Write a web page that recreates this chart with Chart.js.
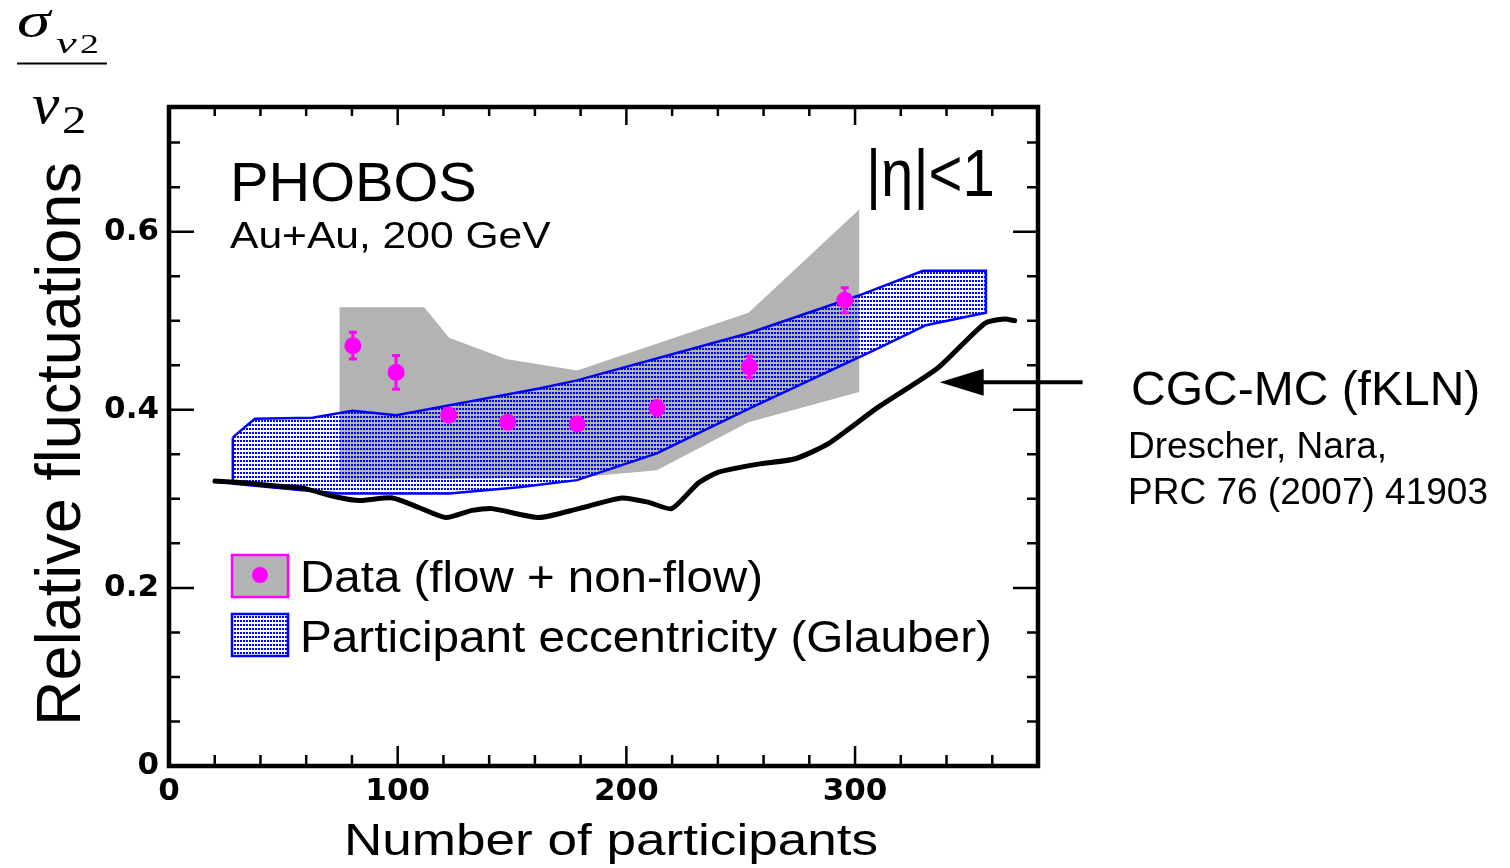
<!DOCTYPE html>
<html>
<head>
<meta charset="utf-8">
<script src="https://cdn.jsdelivr.net/npm/chart.js@4.4.1/dist/chart.umd.min.js"></script>
<style>
  html, body { margin: 0; padding: 0; background: #fff; }
  canvas { display: block; }
</style>
</head>
<body>
<canvas id="c" width="1510" height="868"></canvas>
<script>
// PHOBOS Au+Au 200 GeV: relative elliptic-flow fluctuations vs. number of participants

// measured points (flow + non-flow) with statistical errors
const nPart    = [80.4, 99.3, 122.3, 148.1, 178.5, 213.4, 253.8, 295.5];
const relFluct = [0.472, 0.442, 0.394, 0.386, 0.384, 0.402, 0.448, 0.523];
const statErr  = [0.015, 0.019, 0.006, 0.006, 0.006, 0.008, 0.012, 0.014];

// systematic band of the data: upper edge left to right, then lower edge back
const sysBandX = [74.6, 111.6, 122.5, 147.3, 178.5, 253.4, 301.8, 301.8, 253.4, 213.3, 178.4, 74.6, 74.6];
const sysBandY = [0.515, 0.515, 0.481, 0.457, 0.444, 0.509, 0.625, 0.420, 0.386, 0.332, 0.324, 0.321, 0.515];

// Glauber participant eccentricity band (closed outline)
const glauberX = [27.9, 37.5, 62.8, 80.2, 99.4, 161.8, 178.4, 253.4, 301.3, 329.7, 357.2,
                  357.2, 331.0, 310.0, 253.4, 213.3, 178.4, 153.0, 122.5, 74.6, 57.0, 27.9, 27.9];
const glauberY = [0.369, 0.390, 0.391, 0.399, 0.394, 0.424, 0.433, 0.486, 0.528, 0.556, 0.556,
                  0.509, 0.495, 0.469, 0.401, 0.351, 0.321, 0.313, 0.306, 0.306, 0.310, 0.317, 0.369];

// CGC-MC (fKLN) curve
const cgcX = [20.1, 33.1, 44.0, 58.4, 73.3, 83.3, 97.7, 109.5, 121.2, 132.6, 141.3, 161.8, 179.2,
              198.0, 209.8, 219.8, 231.6, 240.3, 257.7, 273.9, 288.3, 310.1, 336.2, 356.7, 365.5, 369.8];
const cgcY = [0.320, 0.318, 0.315, 0.312, 0.302, 0.298, 0.301, 0.290, 0.279, 0.287, 0.289, 0.279, 0.289,
              0.301, 0.296, 0.289, 0.318, 0.330, 0.339, 0.345, 0.362, 0.403, 0.447, 0.497, 0.502, 0.500];

// axes
const xTickValues = [0, 100, 200, 300];
const yTickValues = [0, 0.2, 0.4, 0.6];
const xRange = [0, 380];
const yRange = [0, 0.74];
const xMinorStep = 20;
const yMinorStep = 0.05;

// arrow pointing at the CGC curve (data coordinates)
const arrowTip  = [337, 0.431];
const arrowTail = [399.5, 0.431];

const toXY = (xs, ys) => xs.map((x, i) => ({ x: x, y: ys[i] }));

// blue dotted fill
function dotPattern() {
  const t = document.createElement('canvas');
  t.width = 3; t.height = 4;
  const g = t.getContext('2d');
  g.fillStyle = '#0000ff';
  g.fillRect(0, 0, 2, 2);
  return g.createPattern(t, 'repeat');
}
const dots = dotPattern();

// text drawn with a horizontal stretch factor
function wideText(ctx, text, x, y, font, sx, align) {
  ctx.save();
  ctx.font = font;
  ctx.textAlign = align || 'left';
  ctx.textBaseline = 'alphabetic';
  ctx.translate(x, y);
  ctx.scale(sx, 1);
  ctx.fillText(text, 0, 0);
  ctx.restore();
}

const errorBars = {
  id: 'errorBars',
  afterDatasetsDraw(chart) {
    const { ctx, scales: { x, y } } = chart;
    ctx.save();
    ctx.strokeStyle = '#ff00ff';
    ctx.lineWidth = 3;
    ctx.beginPath();
    nPart.forEach((n, i) => {
      const px = x.getPixelForValue(n);
      const yHi = y.getPixelForValue(relFluct[i] + statErr[i]);
      const yLo = y.getPixelForValue(relFluct[i] - statErr[i]);
      ctx.moveTo(px, yLo); ctx.lineTo(px, yHi);
      ctx.moveTo(px - 4, yLo); ctx.lineTo(px + 4, yLo);
      ctx.moveTo(px - 4, yHi); ctx.lineTo(px + 4, yHi);
    });
    ctx.stroke();
    ctx.restore();
  }
};

const frameAndNotes = {
  id: 'frameAndNotes',
  afterDraw(chart) {
    const { ctx, chartArea: a, scales: { x, y } } = chart;
    ctx.save();

    // inward ticks on all four sides
    ctx.strokeStyle = '#000';
    ctx.lineWidth = 2.5;
    ctx.beginPath();
    for (let v = xRange[0]; v <= xRange[1]; v += xMinorStep) {
      const px = x.getPixelForValue(v);
      const major = v % 100 === 0;
      ctx.moveTo(px, a.bottom); ctx.lineTo(px, a.bottom - (major ? 20 : 11));
      ctx.moveTo(px, a.top);    ctx.lineTo(px, a.top + (major ? 18 : 9));
    }
    for (let k = 0; k * yMinorStep <= yRange[1] + 1e-9; k++) {
      const py = y.getPixelForValue(k * yMinorStep);
      const major = k % 4 === 0;
      ctx.moveTo(a.left, py);  ctx.lineTo(a.left + (major ? 25 : 11), py);
      ctx.moveTo(a.right, py); ctx.lineTo(a.right - (major ? 25 : 11), py);
    }
    ctx.stroke();
    ctx.lineWidth = 4.5;
    ctx.strokeRect(a.left, a.top, a.right - a.left, a.bottom - a.top);

    ctx.fillStyle = '#000';

    // axis titles
    wideText(ctx, 'Number of participants', 611, 855, '45px "Liberation Sans"', 1.18, 'center');
    ctx.save();
    ctx.translate(80, 444);
    ctx.rotate(-Math.PI / 2);
    ctx.font = '63px "Liberation Sans"';
    ctx.textAlign = 'center';
    ctx.textBaseline = 'alphabetic';
    ctx.fillText('Relative fluctuations', 0, 0);
    ctx.restore();

    // labels inside the frame
    wideText(ctx, 'PHOBOS', 230, 201, '56px "Liberation Sans"', 1.03);
    wideText(ctx, 'Au+Au, 200 GeV', 230, 248, '37px "Liberation Sans"', 1.15);
    wideText(ctx, '|η|<1', 866, 196, '66px "Liberation Sans"', 0.88);

    // legend
    ctx.lineWidth = 2.5;
    ctx.fillStyle = '#b3b3b3';
    ctx.fillRect(232, 555, 56, 42);
    ctx.strokeStyle = '#ff00ff';
    ctx.strokeRect(232, 555, 56, 42);
    ctx.fillStyle = '#ff00ff';
    ctx.beginPath(); ctx.arc(260, 575, 8, 0, Math.PI * 2); ctx.fill();
    ctx.fillStyle = dots;
    ctx.fillRect(232, 614, 56, 42);
    ctx.strokeStyle = '#0000ff';
    ctx.strokeRect(232, 614, 56, 42);
    ctx.fillStyle = '#000';
    wideText(ctx, 'Data (flow + non-flow)', 300, 592, '45px "Liberation Sans"', 1.055);
    wideText(ctx, 'Participant eccentricity (Glauber)', 300, 652, '45px "Liberation Sans"', 1.06);

    // arrow and model reference
    const tx = x.getPixelForValue(arrowTip[0]), ty = y.getPixelForValue(arrowTip[1]);
    const sx = x.getPixelForValue(arrowTail[0]);
    ctx.strokeStyle = '#000';
    ctx.lineWidth = 4;
    ctx.beginPath(); ctx.moveTo(sx, ty); ctx.lineTo(tx + 40, ty); ctx.stroke();
    ctx.beginPath();
    ctx.moveTo(tx, ty); ctx.lineTo(tx + 44, ty - 13.5); ctx.lineTo(tx + 44, ty + 13.5);
    ctx.closePath(); ctx.fill();

    wideText(ctx, 'CGC-MC (fKLN)', 1131, 405, '48px "Liberation Sans"', 1.0);
    wideText(ctx, 'Drescher, Nara,', 1128, 458, '37px "Liberation Sans"', 1.0);
    wideText(ctx, 'PRC 76 (2007) 41903', 1128, 504, '37px "Liberation Sans"', 1.0);

    // sigma_v2 / v2 label
    wideText(ctx, 'σ', 17, 37, 'italic 50px "Liberation Serif"', 1.35);
    wideText(ctx, 'v', 56, 53, 'italic 30px "Liberation Serif"', 1.55);
    wideText(ctx, '2', 80, 53, '27px "Liberation Serif"', 1.4);
    ctx.fillRect(17, 62.5, 90, 2);
    wideText(ctx, 'v', 32, 123, 'italic 56px "Liberation Serif"', 1.1);
    wideText(ctx, '2', 62, 133, '39px "Liberation Serif"', 1.25);

    ctx.restore();
  }
};

const tickFont = { family: 'DejaVu Sans', weight: 'bold', size: 31 };

new Chart(document.getElementById('c'), {
  type: 'line',
  data: {
    datasets: [
      { label: 'Data (flow + non-flow)', data: toXY(nPart, relFluct), showLine: false,
        pointRadius: 8.5, pointHoverRadius: 8.5, pointBackgroundColor: '#ff00ff', pointBorderWidth: 0, order: 0 },
      { label: 'CGC-MC (fKLN)', data: toXY(cgcX, cgcY), borderColor: '#000', borderWidth: 5,
        fill: false, pointRadius: 0, tension: 0.2, borderCapStyle: 'round', order: 1 },
      { label: 'Participant eccentricity (Glauber)', data: toXY(glauberX, glauberY), borderColor: '#0000ff',
        borderWidth: 2.5, backgroundColor: dots, fill: 'shape', pointRadius: 0, tension: 0, order: 2 },
      { label: 'Systematic band', data: toXY(sysBandX, sysBandY), borderWidth: 0, borderColor: 'rgba(0,0,0,0)',
        backgroundColor: '#b3b3b3', fill: 'shape', pointRadius: 0, tension: 0, order: 3 }
    ]
  },
  options: {
    responsive: false,
    animation: false,
    devicePixelRatio: 1,
    layout: { padding: { left: 0, top: 107, right: 472, bottom: 0 } },
    plugins: { legend: { display: false }, tooltip: { enabled: false } },
    scales: {
      x: {
        type: 'linear', position: 'bottom', min: xRange[0], max: xRange[1],
        afterFit: s => { s.height = 102; },
        afterBuildTicks: s => { s.ticks = xTickValues.map(v => ({ value: v })); },
        grid: { display: false, drawTicks: false },
        border: { display: false },
        ticks: { font: tickFont, color: '#000', padding: 7, maxRotation: 0, autoSkip: false,
                 callback: v => String(v) },
        title: { display: false }
      },
      y: {
        type: 'linear', position: 'left', min: yRange[0], max: yRange[1],
        afterFit: s => { s.width = 169; },
        afterBuildTicks: s => { s.ticks = yTickValues.map(v => ({ value: v })); },
        grid: { display: false, drawTicks: false },
        border: { display: false },
        ticks: { font: tickFont, color: '#000', padding: 10, autoSkip: false,
                 callback: v => (v === 0 ? '0' : v.toFixed(1)) },
        title: { display: false }
      }
    }
  },
  plugins: [errorBars, frameAndNotes]
});
</script>
</body>
</html>
